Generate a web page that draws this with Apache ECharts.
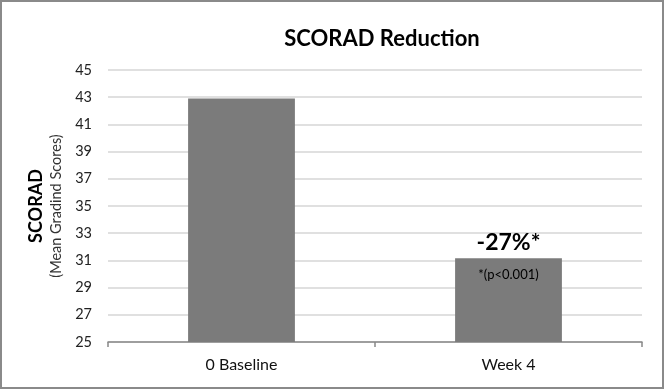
<!DOCTYPE html>
<html>
<head>
<meta charset="utf-8">
<script src="https://cdn.jsdelivr.net/npm/echarts@6/dist/echarts.min.js"></script>
<style>
  html, body { margin: 0; padding: 0; background: #fff; }
  #chart { width: 664px; height: 389px; }
</style>
</head>
<body>
<div id="chart"></div>
<script>
var categories = ['0 Baseline', 'Week 4'];
var scores = [42.9, 31.15];
var changeLabels = ['', '-27%*'];
var noteLabels = ['', '*(p<0.001)'];

var chartDom = document.getElementById('chart');
var myChart = echarts.init(chartDom);
var font = 'Lato, "Open Sans", sans-serif';

var option = {
  animation: false,
  textStyle: { fontFamily: font },
  title: {
    text: 'SCORAD Reduction',
    left: 377,
    top: 23,
    textAlign: 'center',
    textStyle: { fontFamily: font, fontSize: 22, fontWeight: 'bold', color: '#000' }
  },
  grid: { left: 108, right: 22, top: 70, bottom: 47 },
  xAxis: {
    type: 'category',
    data: categories,
    axisLine: { lineStyle: { color: '#888', width: 1.5 } },
    axisTick: { show: true, length: 5, lineStyle: { color: '#888', width: 1.5 } },
    axisLabel: { fontSize: 16, color: '#111', margin: 15, fontFamily: font }
  },
  yAxis: {
    type: 'value',
    min: 25,
    max: 45,
    interval: 2,
    name: '{a|SCORAD}\n{b|(Mean Gradind Scores)}',
    nameLocation: 'middle',
    nameRotate: 90,
    nameGap: 38,
    nameTextStyle: {
      rich: {
        a: { fontSize: 18, fontWeight: 'bold', color: '#000', fontFamily: font, lineHeight: 22 },
        b: { fontSize: 14.5, color: '#333', fontFamily: font, lineHeight: 20 }
      }
    },
    axisLine: { show: false },
    axisTick: { show: false },
    axisLabel: { fontSize: 14.5, color: '#222', margin: 16, fontFamily: font },
    splitLine: { lineStyle: { color: '#d6d6d6', width: 1.5 } }
  },
  series: [
    {
      type: 'bar',
      data: scores,
      barWidth: '40%',
      itemStyle: { color: '#7b7b7b' },
      label: {
        show: true,
        position: 'top',
        distance: 4,
        fontSize: 23,
        fontWeight: 'bold',
        color: '#000',
        fontFamily: font,
        formatter: function (p) { return changeLabels[p.dataIndex]; }
      }
    },
    {
      type: 'bar',
      data: scores,
      barWidth: '40%',
      barGap: '-100%',
      itemStyle: { color: 'rgba(0,0,0,0)' },
      silent: true,
      label: {
        show: true,
        position: 'insideTop',
        distance: 10,
        fontSize: 13,
        color: '#000',
        fontFamily: font,
        formatter: function (p) { return noteLabels[p.dataIndex]; }
      }
    }
  ],
  graphic: [
    {
      type: 'rect',
      shape: { x: 1, y: 1, width: 662, height: 387 },
      style: { fill: 'none', stroke: '#8a8a8a', lineWidth: 2 },
      silent: true
    }
  ]
};

option && myChart.setOption(option);
</script>
</body>
</html>
